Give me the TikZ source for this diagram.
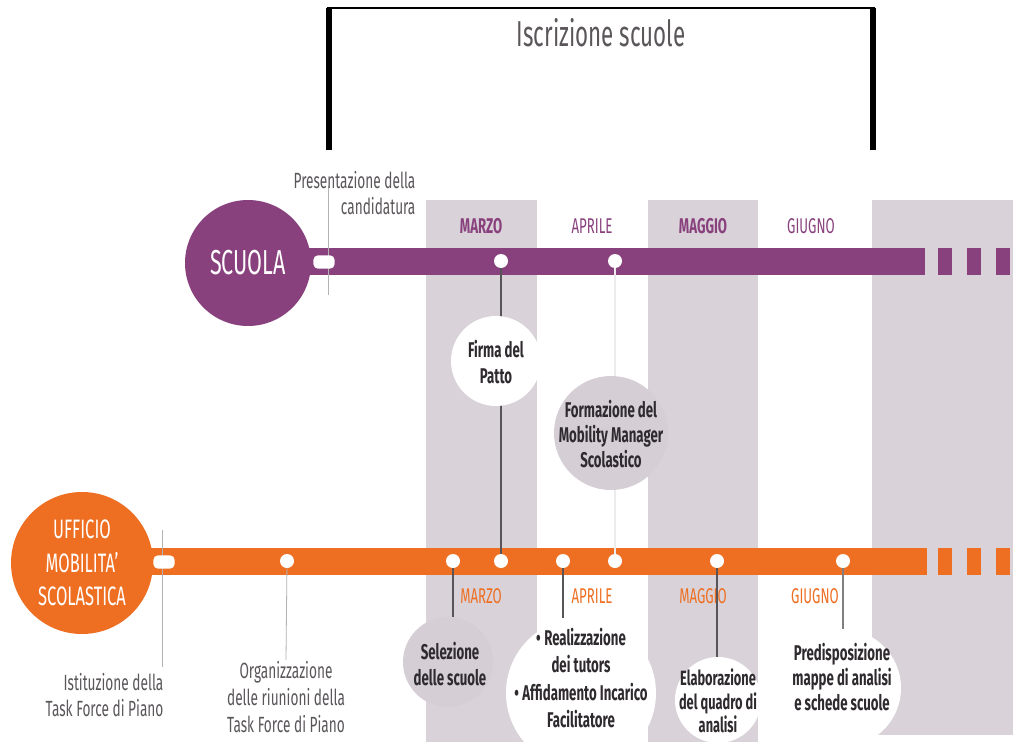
\documentclass[tikz,border=0pt]{standalone}
\usepackage{fontspec}
\setmainfont{Fira Sans}[FakeStretch=0.62]
\definecolor{purp}{HTML}{89417E}
\definecolor{orng}{HTML}{EE6F22}
\definecolor{band}{HTML}{D9D3D9}
\definecolor{cgray}{HTML}{D5CFD5}
\definecolor{txtd}{HTML}{2E2A2E}
\definecolor{txtl}{HTML}{5A565A}
\tikzset{
  dot/.style={circle,fill=white,minimum size=10.5pt,inner sep=0pt},
  bigc/.style={circle,inner sep=0pt,text=white,align=center},
  bubble/.style={circle,inner sep=0pt},
  btext/.style={inner sep=0pt,align=center,text=txtd,font=\bfseries\fontsize{16}{19}\selectfont},
  desc/.style={text=txtl,font=\fontsize{16.5}{19.5}\selectfont,inner sep=1pt},
  monthP/.style={text=purp,font=\fontsize{16}{18}\selectfont},
  monthO/.style={text=orng,font=\fontsize{16}{18}\selectfont},
  thinln/.style={draw=gray!60,line width=0.6pt},
  darkln/.style={draw=txtd!80,line width=1pt},
  lightln/.style={draw=white!85!gray,line width=1pt},
  pill/.style={fill=white,rounded corners=3.5pt,minimum width=16pt,minimum height=10pt,inner sep=0pt},
}
\begin{document}
\begin{tikzpicture}[x=0.75pt,y=-0.75pt]
\useasboundingbox[fill=white] (0,0) rectangle (1018,742);
% month bands
\fill[band] (426,200) rectangle (537,742);
\fill[band] (648,200) rectangle (758,742);
\fill[band] (872,200) rectangle (1013,735);
% bracket
\draw[line width=4.5pt] (329,150) -- (329,8);
\draw[line width=4.5pt] (873,150) -- (873,8);
\draw[line width=1.8pt] (327,8) -- (875,8);
\node[text=txtl,font=\fontsize{27}{30}\selectfont] (title) at (601,33) {Iscrizione scuole};
% bars
\fill[purp] (290,248) rectangle (925,275);
\foreach \x in {938,967,996} \fill[purp] (\x,248) rectangle (\x+14,275);
\fill[orng] (140,548) rectangle (927,575);
\foreach \x in {938,967,996} \fill[orng] (\x,548) rectangle (\x+14,575);
% description coordinates and lines
\coordinate (pTop) at (328,186);
\coordinate (pBot) at (328,295);
\draw[thinln] (pTop) -- (pBot);
\coordinate (iTop) at (162,530);
\coordinate (iBot) at (162,667);
\draw[thinln] (iTop) -- (iBot);
% pills
\node[pill] (pillS) at (324,262) {};
\node[pill] (pillU) at (164,562) {};
% big circles
\node[bigc,fill=purp,minimum size=94.5pt,font=\fontsize{26}{30}\selectfont] (scuola) at (248,263) {SCUOLA};
\node[bigc,fill=orng,minimum size=106.5pt,font=\fontsize{20}{25}\selectfont] (ufficio) at (82,563) {UFFICIO\\MOBILITA'\\SCOLASTICA};
% dots
\node[dot] (s1) at (501,261) {};
\node[dot] (s2) at (615,261) {};
\node[dot] (o1) at (287,561) {};
\node[dot] (o2) at (453,561) {};
\node[dot] (o3) at (501,561) {};
\node[dot] (o4) at (563,561) {};
\node[dot] (o5) at (615,561) {};
\node[dot] (o6) at (717,561) {};
\node[dot] (o7) at (843,561) {};
% month labels
\node[monthP,font=\bfseries\fontsize{16}{18}\selectfont] (mP1) at (481,226) {MARZO};
\node[monthP] (mP2) at (592,226) {APRILE};
\node[monthP,font=\bfseries\fontsize{16}{18}\selectfont] (mP3) at (703,226) {MAGGIO};
\node[monthP] (mP4) at (811,226) {GIUGNO};
\node[monthO] (mO1) at (481,596) {MARZO};
\node[monthO] (mO2) at (592,596) {APRILE};
\node[monthO] (mO3) at (703,596) {MAGGIO};
\node[monthO] (mO4) at (815,596) {GIUGNO};
% descriptions
\node[desc,align=right,anchor=north east] (pres) at (417,170) {Presentazione della\\candidatura};
\node[desc,align=right,anchor=east] (ist) at (165,695) {Istituzione della\\Task Force di Piano};
\node[desc,align=center,anchor=north,font=\fontsize{16.5}{20}\selectfont] (org) at (286,660) {Organizzazione\\delle riunioni della\\Task Force di Piano};
% connectors (drawn before bubbles)
\draw[darkln] (s1) -- (o3);
\draw[lightln] (s2) -- (o5);
\draw[thinln] (o1) -- (org.north);
% bubbles
\node[bubble,fill=white,minimum size=67.5pt] (firma) at (496,361) {};
\node[btext] (firmaT) at (496,362) {Firma del\\Patto};
\node[bubble,fill=cgray,minimum size=85.5pt] (form) at (611,433) {};
\node[btext] (formT) at (611,434) {Formazione del\\Mobility Manager\\Scolastico};
\node[bubble,fill=cgray,minimum size=67.5pt] (sel) at (448,662) {};
\node[btext] (selT) at (450,664) {Selezione\\delle scuole};
\node[bubble,fill=white,minimum size=112.5pt] (real) at (581,693) {};
\node[btext,font=\bfseries\fontsize{16}{20.5}\selectfont] (realT) at (581,678) {\textbullet\,Realizzazione\\dei tutors\\\textbullet\,Affidamento Incarico\\Facilitatore};
\node[bubble,fill=white,minimum size=64.5pt] (elab) at (718,700) {};
\node[btext,font=\bfseries\fontsize{15.5}{17.5}\selectfont] (elabT) at (718,701) {Elaborazione\\del quadro di\\analisi};
\node[bubble,fill=white,minimum size=88.5pt] (pred) at (842,688) {};
\node[btext] (predT) at (842,677) {Predisposizione\\mappe di analisi\\e schede scuole};
% lower connectors
\draw[darkln] (o2) -- (o2 |- sel.north);
\draw[darkln] (o4) -- (o4 |- real.north);
\draw[darkln] (o6) -- (o6 |- elab.north);
\draw[darkln,draw=txtd!60] (o7) -- (o7 |- pred.north);
\end{tikzpicture}
\end{document}
